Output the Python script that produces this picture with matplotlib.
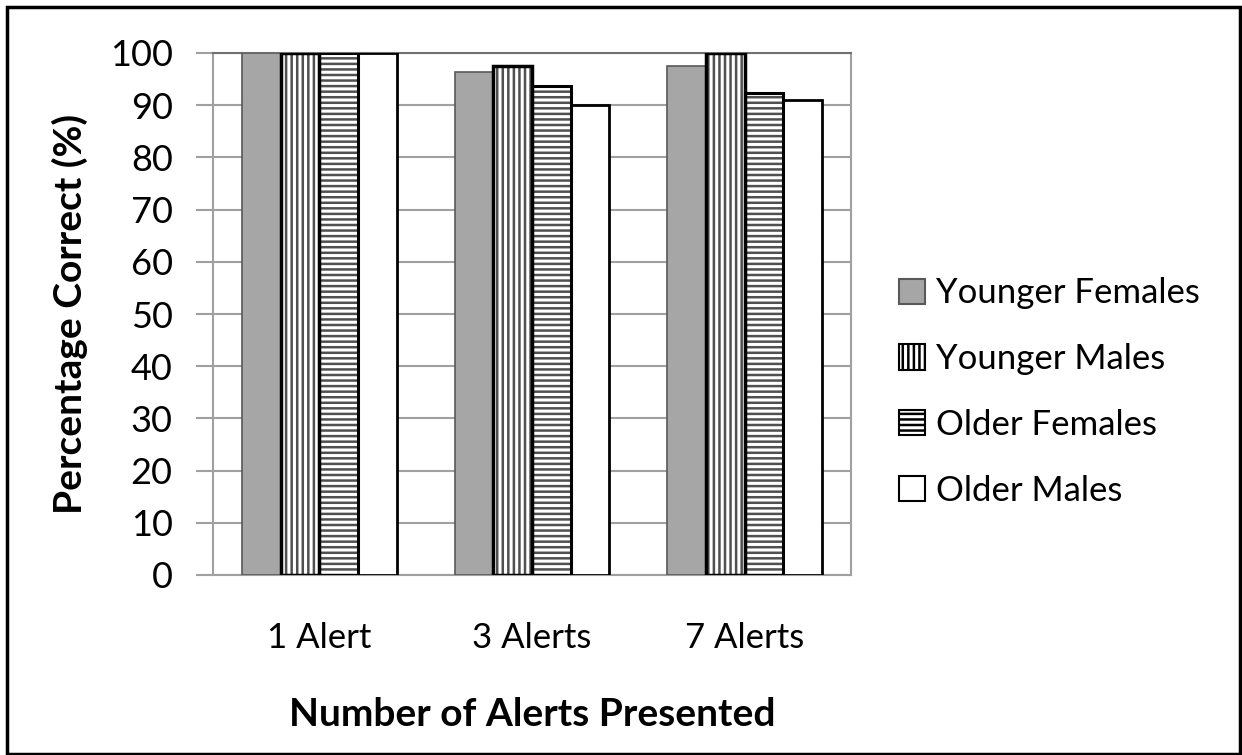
import matplotlib
matplotlib.use("Agg")
import matplotlib.pyplot as plt
import numpy as np
from matplotlib.patches import Rectangle

plt.rcParams['font.family'] = ['Lato', 'DejaVu Sans']
plt.rcParams['hatch.linewidth'] = 1.8

categories = ["1 Alert", "3 Alerts", "7 Alerts"]
series_names = ["Younger Females", "Younger Males", "Older Females", "Older Males"]
younger_females = [100, 96.4, 97.5]
younger_males = [100, 97.6, 100]
older_females = [100, 93.6, 92.3]
older_males = [100, 90.0, 91.0]
values = [younger_females, younger_males, older_females, older_males]

styles = [
    dict(facecolor="#a6a6a6", edgecolor="#595959", hatch=None, linewidth=1.2),
    dict(facecolor="white", edgecolor="black", hatch="|||", linewidth=2.5),
    dict(facecolor="white", edgecolor="black", hatch="---", linewidth=2.2),
    dict(facecolor="white", edgecolor="black", hatch=None, linewidth=2.0),
]
hatch_color = "#505050"

fig = plt.figure(figsize=(12.42, 7.55), dpi=100)
ax = fig.add_axes([213 / 1242, 1 - 575 / 755, 638 / 1242, 522 / 755])

x = np.arange(len(categories))
width = 0.182
offsets = (np.arange(4) - 1.5) * width
for vals, st, name, off in zip(values, styles, series_names, offsets):
    ax.bar(x + off, vals, width, facecolor=st["facecolor"],
           edgecolor=hatch_color if st["hatch"] else st["edgecolor"],
           hatch=st["hatch"], linewidth=0, label=name, zorder=3)
    # outline drawn separately so hatch colour and edge colour can differ
    ax.bar(x + off, vals, width, facecolor="none", edgecolor=st["edgecolor"],
           linewidth=st["linewidth"], zorder=4)

ax.set_xlim(-0.5, 2.5)
ax.set_ylim(0, 100)
ax.set_yticks(np.arange(0, 101, 10))
ax.set_xticks(x)
ax.set_xticklabels(categories)
ax.yaxis.grid(True, color="#a0a0a0", linewidth=1.5, zorder=0)
ax.set_axisbelow(True)
for s in ax.spines.values():
    s.set_color("#a0a0a0")
    s.set_linewidth(1.5)
ax.spines["top"].set_color("#707070")
ax.tick_params(axis="y", length=12, width=1.5, color="#a0a0a0", labelsize=26, pad=17)
ax.tick_params(axis="x", length=0, labelsize=25, pad=34)
ax.set_ylabel("Percentage Correct (%)", fontsize=28, fontweight="bold", labelpad=16)
ax.set_xlabel("Number of Alerts Presented", fontsize=28, fontweight="bold", labelpad=31)

# legend with hatched square markers
handles = []
for st in styles:
    handles.append(Rectangle((0, 0), 1, 1, facecolor=st["facecolor"],
                             edgecolor="black" if st["hatch"] or st["facecolor"] == "white" else "#595959",
                             hatch=st["hatch"], linewidth=1.5))
leg = fig.legend(handles, series_names, loc="center left",
                 bbox_to_anchor=(868 / 1242, 1 - 392 / 755), frameon=False,
                 fontsize=25, handlelength=0.75, handleheight=0.75,
                 handletextpad=0.3, labelspacing=0.97)

# outer chart border
fig.patches.append(Rectangle((7 / 1242, 1 / 755), 1233 / 1242, 747 / 755,
                             transform=fig.transFigure, fill=False,
                             edgecolor="black", linewidth=2.5))

fig.savefig("out.png", dpi=100)
